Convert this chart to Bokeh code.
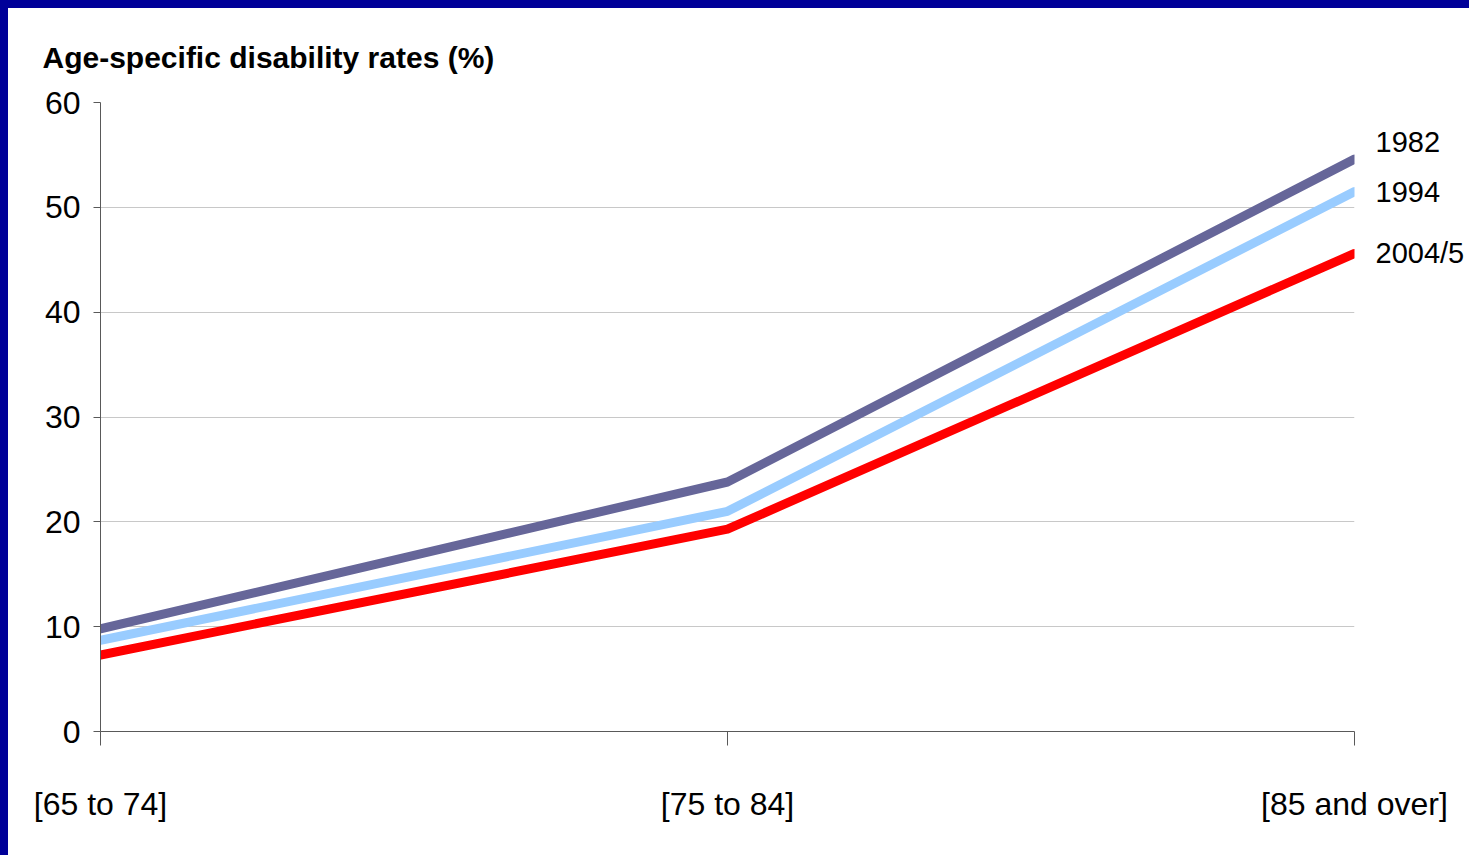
from bokeh.plotting import figure
from bokeh.models import FixedTicker, LinearAxis, Range1d, GlobalInlineStyleSheet
from bokeh.embed import file_html
from bokeh.resources import INLINE

# ---- data ----
categories = ["[65 to 74]", "[75 to 84]", "[85 and over]"]
series_names = ["1982", "1994", "2004/5"]
rates_1982 = [9.8, 23.8, 54.6]
rates_1994 = [8.7, 21.0, 51.5]
rates_2004 = [7.3, 19.3, 45.6]
y_ticks = [0, 10, 20, 30, 40, 50, 60]
title_text = "Age-specific disability rates (%)"

FONT = "Liberation Sans"
colors = ["#666699", "#99CCFF", "#FF0000"]
series = [rates_1982, rates_1994, rates_2004]
label_nudge = [1.6, 0.0, 0.0]   # vertical nudge of end labels (data units)

xs = list(range(len(categories)))

p = figure(width=1461, height=839, output_backend="svg", toolbar_location=None,
           x_range=Range1d(0, len(categories) - 1), y_range=Range1d(y_ticks[0], y_ticks[-1]),
           min_border_left=92, min_border_right=115, min_border_top=94, min_border_bottom=116)
p.outline_line_color = None
p.background_fill_color = "white"
p.border_fill_color = "white"

p.stylesheets = [GlobalInlineStyleSheet(css="html{background:#ffffff;} body{margin:0 !important; border-top:8px solid #000099; border-left:8px solid #000099;}")]

# title
p.title.text = title_text
p.title.align = "left"
p.title.offset = -58
p.title.standoff = 57
p.title.text_font = FONT
p.title.text_font_size = "30px"
p.title.text_font_style = "bold"
p.title.text_color = "black"

# grid
p.xgrid.grid_line_color = None
p.ygrid.grid_line_color = "#C8C8C8"
p.ygrid.grid_line_width = 1

# axes
p.xaxis.ticker = FixedTicker(ticks=xs)
p.xaxis.major_label_overrides = {i: c for i, c in enumerate(categories)}
p.yaxis.ticker = FixedTicker(ticks=y_ticks)
for ax in (p.xaxis[0], p.yaxis[0]):
    ax.axis_line_color = "#595959"
    ax.major_tick_line_color = "#595959"
    ax.minor_tick_line_color = None
    ax.major_tick_in = 0
    ax.major_label_text_font = FONT
    ax.major_label_text_font_size = "32px"
    ax.major_label_text_color = "black"
p.xaxis.major_tick_out = 14
p.xaxis.major_label_standoff = 40
p.yaxis.major_tick_out = 7
p.yaxis.major_label_standoff = 13

for vals, col in zip(series, colors):
    p.line(xs, vals, line_color=col, line_width=9, line_cap="round", line_join="round")

# series names at the line ends, drawn as a right-hand axis
end_pos = [vals[-1] + n for vals, n in zip(series, label_nudge)]
right = LinearAxis(ticker=FixedTicker(ticks=end_pos),
                   major_label_overrides={v: n for v, n in zip(end_pos, series_names)},
                   axis_line_color=None, major_tick_line_color=None, minor_tick_line_color=None,
                   major_tick_in=0, major_tick_out=0, major_label_standoff=21,
                   major_label_text_font=FONT, major_label_text_font_size="29px",
                   major_label_text_color="black")
p.add_layout(right, "right")

open("out.html", "w").write(file_html(p, INLINE))
